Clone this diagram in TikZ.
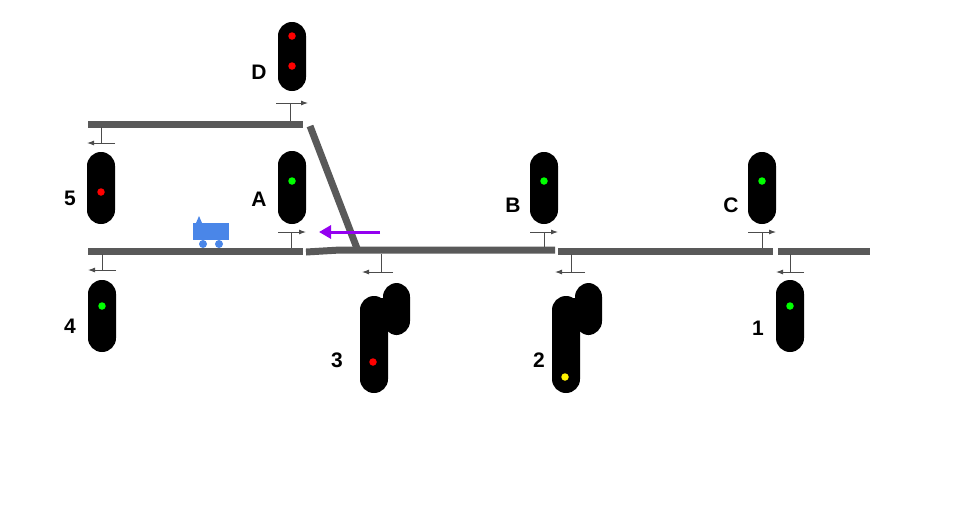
\documentclass[tikz,border=0pt]{standalone}
\usepackage{fontspec}
\setmainfont{Liberation Sans}
\usetikzlibrary{arrows.meta}
\begin{document}
\begin{tikzpicture}[x=1pt,y=-1pt,
  track/.style={line width=7pt,color=black!65},
  sig/.style={fill=black,rounded corners=13.9pt},
  post/.style={line width=0.9pt,color=black!70},
  parr/.style={line width=0.9pt,color=black!70,-{Latex[length=7pt,width=5pt]}},
  lab/.style={font=\fontsize{21}{22}\selectfont\bfseries},
  lamp/.style={circle,inner sep=0pt,minimum size=7.5pt}]
\useasboundingbox (0,0) rectangle (960,504);
% tracks
\draw[track] (88,124) -- (303,124);
\draw[track] (88,251) -- (303,251);
\draw[track] (306,252) -- (340,250) -- (555,250);
\draw[track] (558,251) -- (773,251);
\draw[track] (778,251) -- (870,251);
\draw[track] (310,126) -- (358,251);
% signals
\newcommand{\sigbody}[4]{\fill[sig] (#1-14,#2) rectangle (#1+14,#3);}
\sigbody{292}{22}{91}{}
\node[lamp,fill=red] (d1) at (292,36) {};
\node[lamp,fill=red] (d2) at (292,66) {};
\sigbody{292}{151}{224}{}
\node[lamp,fill=green] (a1) at (292,181) {};
\sigbody{101}{152}{224}{}
\node[lamp,fill=red] (s5) at (101,192) {};
\sigbody{544}{152}{224}{}
\node[lamp,fill=green] (b1) at (544,181) {};
\sigbody{762}{152}{224}{}
\node[lamp,fill=green] (c1) at (762,181) {};
\sigbody{102}{280}{352}{}
\node[lamp,fill=green] (s4) at (102,306) {};
\sigbody{790}{280}{352}{}
\node[lamp,fill=green] (s1) at (790,306) {};
% split signals 3 and 2
\fill[sig] (383,283) rectangle (410,335);
\fill[sig] (360,296) rectangle (388,393);
\fill (374,298) rectangle (397,330);
\node[lamp,fill=red] (s3) at (373,362) {};
\fill[sig] (575,283) rectangle (602,335);
\fill[sig] (552,296) rectangle (580,393);
\fill (566,298) rectangle (589,330);
\node[lamp,fill=yellow] (s2) at (565,377) {};
% posts
\draw[post] (290,121) -- (290,103); \draw[parr] (276,103) -- (308,103);
\draw[post] (291,248) -- (291,232); \draw[parr] (278,232) -- (306,232);
\draw[post] (544,247) -- (544,232); \draw[parr] (530,232) -- (558,232);
\draw[post] (762,248) -- (762,232); \draw[parr] (748,232) -- (776,232);
\draw[post] (101,127) -- (101,143); \draw[parr] (115,143) -- (87,143);
\draw[post] (102,254) -- (102,270); \draw[parr] (116,270) -- (88,270);
\draw[post] (381,254) -- (381,272); \draw[parr] (393,272) -- (362,272);
\draw[post] (571,254) -- (571,272); \draw[parr] (585,272) -- (555,272);
\draw[post] (790,254) -- (790,272); \draw[parr] (804,272) -- (776,272);
% labels
\node[lab] (lD) at (259,72) {D};
\node[lab] (lA) at (259,199) {A};
\node[lab] (l5) at (70,198) {5};
\node[lab] (lB) at (513,205) {B};
\node[lab] (lC) at (731,205) {C};
\node[lab] (l4) at (70,326) {4};
\node[lab] (l3) at (337,360) {3};
\node[lab] (l2) at (539,360) {2};
\node[lab] (l1) at (758,328) {1};
% purple arrow
\definecolor{purp}{HTML}{9400F0}
\draw[line width=3pt,color=purp,-{Triangle[length=12pt,width=13pt]}] (380,232) -- (319,232);
% train
\definecolor{trainblue}{HTML}{4A86E8}
\fill[trainblue] (193,223) rectangle (229,240);
\fill[trainblue] (196,223) -- (199,216) -- (202,223) -- cycle;
\fill[trainblue] (203,244) circle (4);
\fill[trainblue] (219,244) circle (4);
\end{tikzpicture}
\end{document}
